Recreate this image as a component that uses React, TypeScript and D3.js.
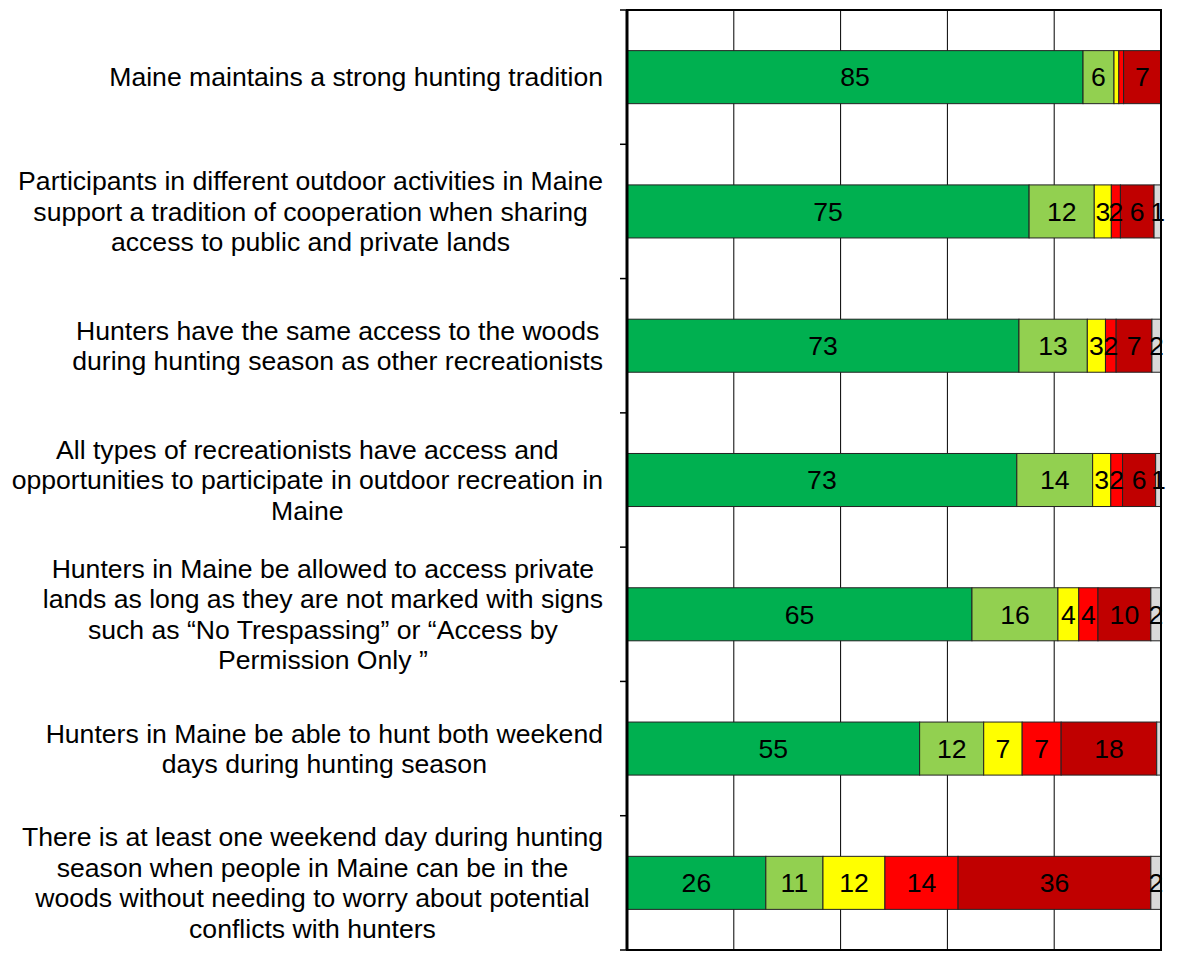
import React, { useEffect, useRef } from 'react';
import * as d3 from 'd3';

// statements, one per row (already wrapped as in the source)
const statements: string[][] = [
  ['Maine maintains a strong hunting tradition'],
  ['Participants in different outdoor activities in Maine', 'support a tradition of cooperation when sharing', 'access to public and private lands'],
  ['Hunters have the same access to the woods', 'during hunting season as other recreationists'],
  ['All types of recreationists have access and', 'opportunities to participate in outdoor recreation in', 'Maine'],
  ['Hunters in Maine be allowed to access private', 'lands as long as they are not marked with signs', 'such as \u201cNo Trespassing\u201d or \u201cAccess by', 'Permission Only \u201d'],
  ['Hunters in Maine be able to hunt both weekend', 'days during hunting season'],
  ['There is at least one weekend day during hunting', 'season when people in Maine can be in the', 'woods without needing to worry about potential', 'conflicts with hunters'],
];

const stronglyAgree = [85.4, 75.3, 73.4, 73.0, 64.6, 54.8, 26.0];
const moderatelyAgree = [5.8, 12.2, 12.8, 14.2, 16.1, 12.0, 10.7];
const neither = [0.9, 3.2, 3.4, 3.4, 3.9, 7.2, 11.6];
const moderatelyDisagree = [0.9, 1.7, 2.0, 2.2, 3.6, 7.3, 13.7];
const stronglyDisagree = [7.0, 6.3, 6.7, 6.2, 9.9, 17.9, 36.1];
const dontKnow = [0, 1.3, 1.7, 1.0, 1.9, 0.8, 1.9];

const seriesNames = ['Strongly agree', 'Moderately agree', 'Neither', 'Moderately disagree', 'Strongly disagree', "Don't know"];
const seriesColors = ['#00B050', '#92D050', '#FFFF00', '#FF0000', '#C00000', '#D9D9D9'];
const xTicks = [0, 20, 40, 60, 80, 100];

export default function App() {
  const svgRef = useRef<SVGSVGElement>(null);

  useEffect(() => {
    const H = 955;
    const margin = { top: 10, right: 30, bottom: 5, left: 627 };
    const fontFamily = '"Liberation Sans", Arial, sans-serif';
    const fs = 26.6;

    const svg = d3.select(svgRef.current);
    svg.selectAll('*').remove();

    const rows = statements.map((lines, i) => ({
      i,
      lines,
      values: [stronglyAgree[i], moderatelyAgree[i], neither[i], moderatelyDisagree[i], stronglyDisagree[i], dontKnow[i]],
    }));

    const x = d3.scaleLinear().domain([0, 100]).range([margin.left, 1161]);
    const y = d3.scaleBand<number>()
      .domain(rows.map(d => d.i))
      .range([margin.top, H - margin.bottom])
      .paddingInner(0.605)
      .paddingOuter(0.3025);
    const step = y.step();
    const bandTop = (i: number) => margin.top + i * step;

    // grid
    const g = svg.append('g');
    g.selectAll('.grid')
      .data(xTicks.slice(1, -1))
      .join('line')
      .attr('x1', d => x(d)).attr('x2', d => x(d))
      .attr('y1', margin.top).attr('y2', H - margin.bottom)
      .attr('stroke', '#000').attr('stroke-width', 1);

    // bars
    const segs = rows.flatMap(r => {
      let acc = 0;
      return r.values.map((v, k) => {
        const s = { row: r.i, k, v, x0: acc, x1: acc + v };
        acc += v;
        return s;
      });
    }).filter(s => s.v > 0);

    g.selectAll('.seg')
      .data(segs)
      .join('rect')
      .attr('x', d => x(d.x0))
      .attr('y', d => y(d.row)!)
      .attr('width', d => x(d.x1) - x(d.x0))
      .attr('height', y.bandwidth())
      .attr('fill', d => seriesColors[d.k])
      .attr('stroke', '#222')
      .attr('stroke-width', 1)
      .append('title').text(d => seriesNames[d.k]);

    g.selectAll('.val')
      .data(segs.filter(s => s.v >= 1))
      .join('text')
      .attr('x', d => (x(d.x0) + x(d.x1)) / 2)
      .attr('y', d => y(d.row)! + y.bandwidth() / 2)
      .attr('dy', '0.35em')
      .attr('text-anchor', 'middle')
      .attr('font-family', fontFamily)
      .attr('font-size', fs)
      .attr('fill', '#000')
      .text(d => Math.round(d.v));

    // frame
    g.append('rect')
      .attr('x', x(0)).attr('y', margin.top)
      .attr('width', x(100) - x(0)).attr('height', H - margin.bottom - margin.top)
      .attr('fill', 'none').attr('stroke', '#000').attr('stroke-width', 2);
    g.append('line')
      .attr('x1', x(0)).attr('x2', x(0))
      .attr('y1', margin.top).attr('y2', H - margin.bottom)
      .attr('stroke', '#000').attr('stroke-width', 3);
    g.selectAll('.tick')
      .data(d3.range(rows.length + 1))
      .join('line')
      .attr('x1', x(0) - 7).attr('x2', x(0))
      .attr('y1', d => bandTop(d)).attr('y2', d => bandTop(d))
      .attr('stroke', '#000').attr('stroke-width', 1.5);

    // category labels: centred lines, block right-aligned at 603
    const lineH = 30.6;
    rows.forEach(r => {
      const t = svg.append('text')
        .attr('font-family', fontFamily)
        .attr('font-size', fs)
        .attr('fill', '#000')
        .attr('text-anchor', 'middle');
      const cy = y(r.i)! + y.bandwidth() / 2;
      const spans = t.selectAll('tspan')
        .data(r.lines)
        .join('tspan')
        .attr('y', (_, j) => cy + (j - (r.lines.length - 1) / 2) * lineH)
        .attr('dy', '0.35em')
        .text(d => d);
      let maxW = 0;
      spans.each(function () {
        maxW = Math.max(maxW, (this as SVGTSpanElement).getComputedTextLength());
      });
      spans.attr('x', 603 - maxW / 2);
    });
  }, []);

  return (
    <div style={{ position: 'absolute', left: 0, top: 0, background: '#fff' }}>
      <svg ref={svgRef} width={1191} height={955} />
    </div>
  );
}
